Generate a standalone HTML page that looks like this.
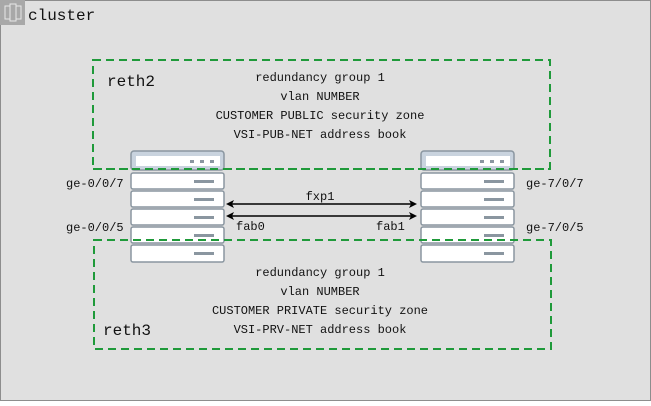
<!DOCTYPE html>
<html><head><style>
body{margin:0;background:#fff;}
svg text{font-family:"Liberation Mono",monospace;fill:#111;}
</style></head><body>
<svg width="651" height="401" viewBox="0 0 651 401" xmlns="http://www.w3.org/2000/svg">
<rect x="0.5" y="0.5" width="650" height="400" fill="#e0e0e0" stroke="#8d8d8d"/>
<rect x="0" y="0" width="25" height="25" fill="#a8a8a8"/>
<g fill="none" stroke="#e8e8e8" stroke-width="1">
<rect x="5" y="6" width="5" height="13"/><rect x="10" y="4" width="6" height="17"/><rect x="16" y="6" width="5" height="13"/>
</g>
<text x="28" y="20" font-size="16">cluster</text>

<rect x="93" y="60" width="457" height="109" fill="none" stroke="#1f9a3a" stroke-width="2" stroke-dasharray="8,5"/>
<rect x="94" y="240" width="457" height="109" fill="none" stroke="#1f9a3a" stroke-width="2" stroke-dasharray="8,5"/>
<text x="107" y="86" font-size="16">reth2</text>
<text x="103" y="335" font-size="16">reth3</text>
<g font-size="12" text-anchor="middle">
<text x="320" y="81">redundancy group 1</text>
<text x="320" y="100">vlan NUMBER</text>
<text x="320" y="119">CUSTOMER PUBLIC security zone</text>
<text x="320" y="138">VSI-PUB-NET address book</text>
<text x="320" y="276">redundancy group 1</text>
<text x="320" y="295">vlan NUMBER</text>
<text x="320" y="314">CUSTOMER PRIVATE security zone</text>
<text x="320" y="333">VSI-PRV-NET address book</text>
</g>

<g id="srv">
<rect x="131" y="151" width="93" height="19" rx="3" fill="#c9d3de" stroke="#8a96a0" stroke-width="1.5"/>
<rect x="136" y="156" width="84" height="10" fill="#fff"/>
<rect x="190" y="160" width="4" height="3" fill="#8a96a0"/><rect x="200" y="160" width="4" height="3" fill="#8a96a0"/><rect x="210" y="160" width="4" height="3" fill="#8a96a0"/>
<g fill="#fff" stroke="#8a96a0" stroke-width="1.5">
<rect x="131" y="173" width="93" height="16" rx="2"/>
<rect x="131" y="191" width="93" height="16" rx="2"/>
<rect x="131" y="209" width="93" height="16" rx="2"/>
<rect x="131" y="227" width="93" height="16" rx="2"/>
<rect x="131" y="245" width="93" height="17" rx="2"/>
</g>
<g fill="#8a96a0">
<rect x="194" y="180" width="20" height="3"/><rect x="194" y="198" width="20" height="3"/><rect x="194" y="216" width="20" height="3"/><rect x="194" y="234" width="20" height="3"/><rect x="194" y="252" width="20" height="3"/>
</g>
</g>
<use href="#srv" transform="translate(290,0)"/>
<rect x="93" y="168" width="135" height="2" fill="#1f9a3a" opacity="0"/>
<line x1="93" y1="169" x2="550" y2="169" stroke="#1f9a3a" stroke-width="2" stroke-dasharray="8,5"/>
<line x1="94" y1="240" x2="551" y2="240" stroke="#1f9a3a" stroke-width="2" stroke-dasharray="8,5"/>

<g font-size="12">
<text x="66" y="187">ge-0/0/7</text>
<text x="66" y="231">ge-0/0/5</text>
<text x="526" y="187">ge-7/0/7</text>
<text x="526" y="231">ge-7/0/5</text>
<text x="320" y="200" text-anchor="middle">fxp1</text>
<text x="236" y="230">fab0</text>
<text x="376" y="230">fab1</text>
</g>
<g stroke="#000" stroke-width="1.5">
<line x1="232" y1="204" x2="411" y2="204"/>
<line x1="232" y1="216" x2="411" y2="216"/>
</g>
<g fill="#000">
<path d="M226 204 L234 200 L232 204 L234 208Z"/><path d="M417 204 L409 200 L411 204 L409 208Z"/>
<path d="M226 216 L234 212 L232 216 L234 220Z"/><path d="M417 216 L409 212 L411 216 L409 220Z"/>
</g>
</svg>
</body></html>
